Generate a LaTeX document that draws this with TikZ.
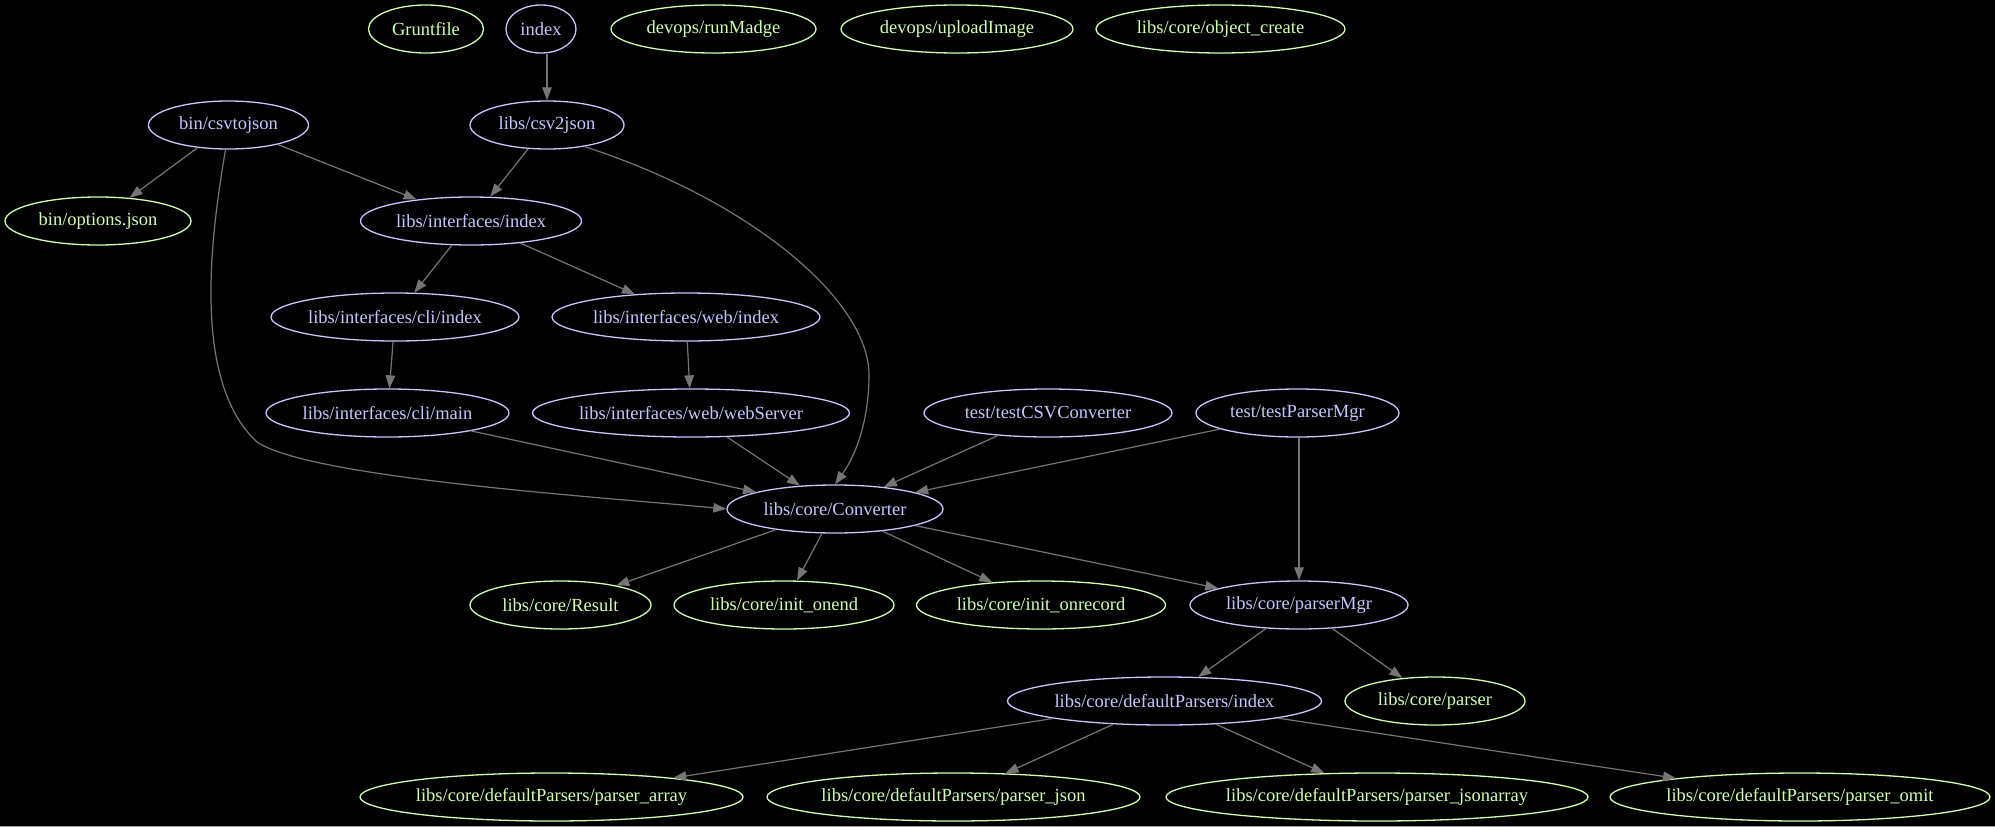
\documentclass[tikz,border=0pt]{standalone}
\usepackage{fontspec}
\setmainfont{Liberation Serif}
\usetikzlibrary{shapes.geometric,arrows.meta}
\definecolor{nblue}{HTML}{C6C5FE}
\definecolor{ngreen}{HTML}{CFFFAC}
\definecolor{egray}{HTML}{757575}
\newcommand\lbl[1]{\makebox[0pt]{#1}}
\tikzset{
  nd/.style={ellipse, inner sep=0pt, minimum height=48pt, line width=1.3pt, font=\fontsize{18.5}{20}\selectfont},
  bn/.style={nd, draw=nblue, text=nblue},
  gn/.style={nd, draw=ngreen, text=ngreen},
  ed/.style={draw=egray, line width=1.2pt, -{Triangle[length=13pt,width=9.5pt]}, fill=none},
}
\begin{document}
\begin{tikzpicture}[x=1pt,y=-1pt]
\fill[black] (0,0) rectangle (1995,827);
\useasboundingbox (0,0) rectangle (1995,827);
\draw[gray!80, line width=1pt] (0,826.5) -- (1995,826.5);
% row 0
\node[gn, minimum width=115pt] (grunt) at (426,29) {\lbl{Gruntfile}};
\node[bn, minimum width=70pt] (index) at (541,29) {\lbl{index}};
\node[gn, minimum width=205pt] (runmadge) at (713.5,29) {\lbl{devops/runMadge}};
\node[gn, minimum width=232pt] (upload) at (957,29) {\lbl{devops/uploadImage}};
\node[gn, minimum width=249pt] (objcreate) at (1220.5,29) {\lbl{libs/core/object\_create}};
% row 1
\node[bn, minimum width=160pt] (csvtojson) at (228.5,125) {\lbl{bin/csvtojson}};
\node[bn, minimum width=154pt] (csv2json) at (547,125) {\lbl{libs/csv2json}};
% row 2
\node[gn, minimum width=186pt] (options) at (98,221) {\lbl{bin/options.json}};
\node[bn, minimum width=221pt] (ifindex) at (471,221) {\lbl{libs/interfaces/index}};
% row 3
\node[bn, minimum width=248pt] (cliindex) at (395,317) {\lbl{libs/interfaces/cli/index}};
\node[bn, minimum width=268pt] (webindex) at (686,317) {\lbl{libs/interfaces/web/index}};
% row 4
\node[bn, minimum width=243pt] (climain) at (387.5,413) {\lbl{libs/interfaces/cli/main}};
\node[bn, minimum width=317pt] (webserver) at (691,413) {\lbl{libs/interfaces/web/webServer}};
\node[bn, minimum width=248pt] (testcsv) at (1048,413) {\lbl{test/testCSVConverter}};
\node[bn, minimum width=203pt] (testpm) at (1297.5,413) {\lbl{test/testParserMgr}};
% row 5
\node[bn, minimum width=216pt] (conv) at (835,509) {\lbl{libs/core/Converter}};
% row 6
\node[gn, minimum width=181pt] (result) at (560.5,605) {\lbl{libs/core/Result}};
\node[gn, minimum width=220pt] (onend) at (784,605) {\lbl{libs/core/init\_onend}};
\node[gn, minimum width=249pt] (onrecord) at (1041,605) {\lbl{libs/core/init\_onrecord}};
\node[bn, minimum width=218pt] (pmgr) at (1299,605) {\lbl{libs/core/parserMgr}};
% row 7
\node[bn, minimum width=314pt] (dpindex) at (1164.5,701) {\lbl{libs/core/defaultParsers/index}};
\node[gn, minimum width=180pt] (parser) at (1435,701) {\lbl{libs/core/parser}};
% row 8
\node[gn, minimum width=383pt] (parray) at (551.5,797) {\lbl{libs/core/defaultParsers/parser\_array}};
\node[gn, minimum width=373pt] (pjson) at (953.5,797) {\lbl{libs/core/defaultParsers/parser\_json}};
\node[gn, minimum width=422pt] (pjsonarray) at (1377,797) {\lbl{libs/core/defaultParsers/parser\_jsonarray}};
\node[gn, minimum width=380pt] (pomit) at (1800,797) {\lbl{libs/core/defaultParsers/parser\_omit}};
% edges
\draw[ed] ([yshift=-0.5pt]csv2json.north |- index.south) -- (csv2json.north);
\draw[ed] (csvtojson) -- (options);
\draw[ed] (csvtojson) -- (ifindex);
\draw[ed] (csvtojson.-97) .. controls (212,230) and (190,380) .. (257,442)
  .. controls (310,478) and (600,497) .. (conv.west);
\draw[ed] (csv2json) -- (ifindex);
\draw[ed] (csv2json.-30) .. controls (750,200) and (869,300) .. (869,375)
  .. controls (869,420) and (856,455) .. (conv.north);
\draw[ed] (ifindex) -- (cliindex);
\draw[ed] (ifindex) -- (webindex);
\draw[ed] (cliindex) -- (climain);
\draw[ed] (webindex) -- (webserver);
\draw[ed] (climain) -- (conv);
\draw[ed] (webserver) -- (conv);
\draw[ed] (testcsv) -- (conv);
\draw[ed] (testpm) -- (conv);
\draw[ed] (pmgr.north |- testpm.south) -- (pmgr.north);
\draw[ed] (conv) -- (result);
\draw[ed] (conv) -- (onend);
\draw[ed] (conv) -- (onrecord);
\draw[ed] (conv) -- (pmgr);
\draw[ed] (pmgr) -- (dpindex);
\draw[ed] (pmgr) -- (parser);
\draw[ed] (dpindex) -- (parray);
\draw[ed] (dpindex) -- (pjson);
\draw[ed] (dpindex) -- (pjsonarray);
\draw[ed] (dpindex) -- (pomit);
\end{tikzpicture}
\end{document}
